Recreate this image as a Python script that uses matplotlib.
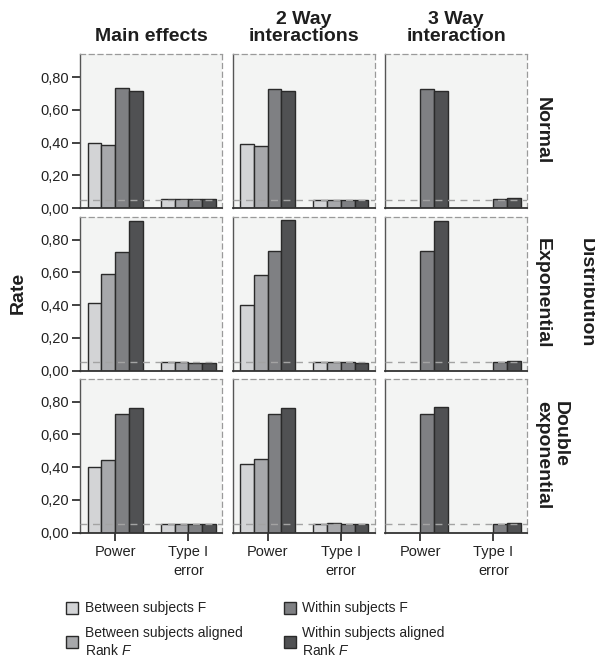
import numpy as np
import matplotlib
matplotlib.use("Agg")
import matplotlib.pyplot as plt
from matplotlib.patches import Rectangle

plt.rcParams['font.family'] = ['Liberation Sans', 'DejaVu Sans']
plt.rcParams['mathtext.fontset'] = 'custom'
plt.rcParams['mathtext.it'] = 'Liberation Sans:italic'
plt.rcParams['mathtext.rm'] = 'Liberation Sans'

# ---- data -------------------------------------------------------------
effects = ["Main effects", "2 Way\ninteractions", "3 Way\ninteraction"]
distributions = ["Normal", "Exponential", "Double\nexponential"]
measures = ["Power", "Type I\nerror"]
methods = ["Between subjects F", "Between subjects aligned\nRank $F$",
           "Within subjects F", "Within subjects aligned\nRank $F$"]

# values[distribution][effect] -> per method: [power, type I error]
normal_main = [[0.40, 0.055], [0.385, 0.054], [0.732, 0.057], [0.716, 0.057]]
normal_2way = [[0.393, 0.050], [0.377, 0.051], [0.726, 0.051], [0.716, 0.051]]
normal_3way = [[np.nan, np.nan], [np.nan, np.nan], [0.730, 0.057], [0.716, 0.061]]

expo_main = [[0.412, 0.049], [0.593, 0.051], [0.724, 0.047], [0.917, 0.045]]
expo_2way = [[0.398, 0.049], [0.585, 0.050], [0.732, 0.050], [0.923, 0.048]]
expo_3way = [[np.nan, np.nan], [np.nan, np.nan], [0.730, 0.050], [0.917, 0.056]]

dexp_main = [[0.403, 0.053], [0.442, 0.053], [0.726, 0.053], [0.761, 0.053]]
dexp_2way = [[0.417, 0.053], [0.450, 0.057], [0.724, 0.049], [0.761, 0.049]]
dexp_3way = [[np.nan, np.nan], [np.nan, np.nan], [0.726, 0.051], [0.765, 0.057]]

values = [[normal_main, normal_2way, normal_3way],
          [expo_main, expo_2way, expo_3way],
          [dexp_main, dexp_2way, dexp_3way]]

nominal_alpha = 0.05
yticks = [0.0, 0.2, 0.4, 0.6, 0.8]
ytick_labels = ["0,00", "0,20", "0,40", "0,60", "0,80"]

# ---- style ------------------------------------------------------------
bar_colors = ["#d3d4d6", "#a7a8ab", "#7f8083", "#505153"]
edge_col = "#2a2a2a"
panel_bg = "#f3f4f3"
W, H = 595, 662

fig = plt.figure(figsize=(W / 100, H / 100), dpi=100)

col_left = [80, 232.5, 385]
row_top = [54, 216.5, 378.5]
pw, ph = 142, 154
bw = 0.1875
xpos = np.arange(len(measures))


def fx(px):
    return px / W


def fy(py):
    return 1 - py / H


for r in range(3):
    for c in range(3):
        ax = fig.add_axes([fx(col_left[c]), fy(row_top[r] + ph), pw / W, ph / H])
        ax.set_facecolor(panel_bg)
        data = values[r][c]
        for i in range(4):
            ax.bar(xpos + (i - 1.5) * bw, data[i], width=bw, align='center',
                   color=bar_colors[i], edgecolor=edge_col, linewidth=1.0, zorder=2)
        ax.axhline(nominal_alpha, color="#a3a3a3", lw=1.0,
                   linestyle=(0, (5, 4)), zorder=3)
        ax.set_xlim(-0.48, 1.46)
        ax.set_ylim(0, 0.942)

        for s in ("top", "right"):
            ax.spines[s].set_linestyle((0, (4, 3)))
            ax.spines[s].set_color("#9a9a9a")
            ax.spines[s].set_linewidth(0.9)
        ax.spines["left"].set_color("#555555")
        ax.spines["left"].set_linewidth(1.0)
        ax.spines["bottom"].set_color("#333333")
        ax.spines["bottom"].set_linewidth(1.3)

        ax.set_yticks(yticks)
        if c == 0:
            ax.set_yticklabels(ytick_labels, fontsize=10.5, color="#222222")
            ax.tick_params(axis='y', length=6, width=1.3, color="#333333", pad=2)
        else:
            ax.tick_params(axis='y', length=0, labelleft=False)

        ax.set_xticks(xpos)
        if r == 2:
            ax.set_xticklabels(measures, fontsize=10.5, color="#222222",
                               linespacing=1.45)
            ax.tick_params(axis='x', length=6, width=1.3, color="#333333", pad=3)
        else:
            ax.tick_params(axis='x', length=0, labelbottom=False)

# column titles
for c, t in enumerate(effects):
    fig.text(fx(col_left[c] + pw / 2), fy(45), t, ha='center', va='bottom',
             fontsize=14, fontweight='bold', color="#1e1e1e", linespacing=1.0)

# row labels (rotated; the last line sits next to the panels)
for r, t in enumerate(distributions):
    fig.text(fx(534), fy(row_top[r] + ph / 2), t, ha='left', va='center',
             rotation=-90, fontsize=14, fontweight='bold', color="#1e1e1e",
             linespacing=1.05)

fig.text(fx(586.5), fy(293), "Distribution", ha='center', va='center',
         rotation=-90, fontsize=14, fontweight='bold', color="#1e1e1e")
fig.text(fx(18), fy(293), "Rate", ha='center', va='center', rotation=90,
         fontsize=14, fontweight='bold', color="#1e1e1e")

# legend
leg_cols = [(66, 85), (284, 302)]
leg_rows = [608, 642]
for k, lab in enumerate(methods):
    px, tx = leg_cols[k // 2]
    cy = leg_rows[k % 2]
    fig.patches.append(Rectangle((fx(px), fy(cy + 6)), 12 / W, 12 / H,
                                 transform=fig.transFigure, facecolor=bar_colors[k],
                                 edgecolor=edge_col, linewidth=1.0))
    fig.text(fx(tx), fy(cy), lab, ha='left', va='center', fontsize=10,
             color="#222222", linespacing=1.3)

fig.savefig("out.png", dpi=100)
